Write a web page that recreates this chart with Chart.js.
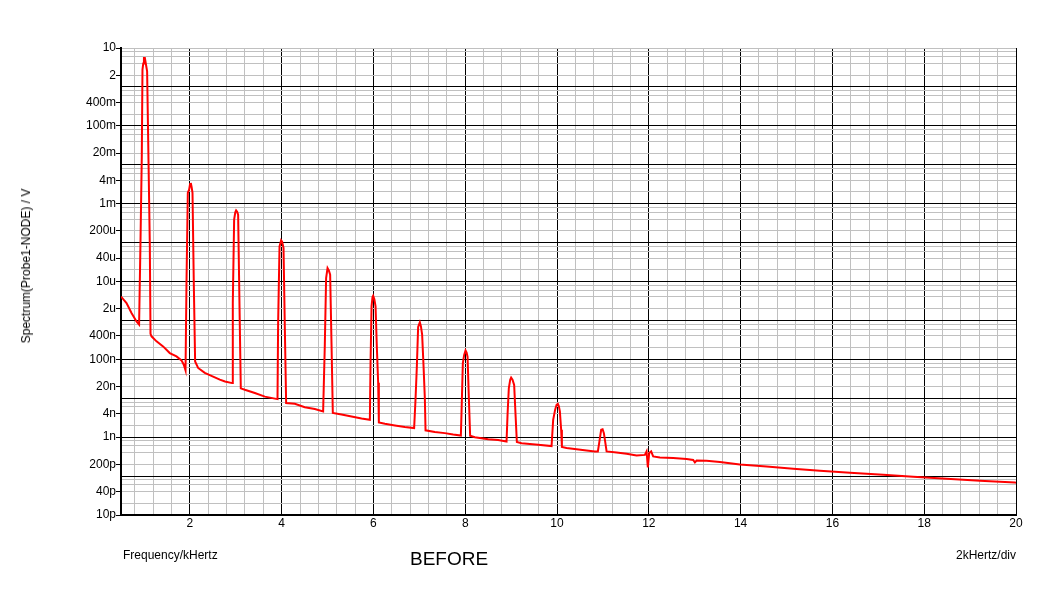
<!DOCTYPE html>
<html><head><meta charset="utf-8">
<script src="https://cdn.jsdelivr.net/npm/chart.js@4"></script>
<style>
html,body{margin:0;padding:0;background:#fff;}
#wrap{position:relative;width:1064px;height:596px;overflow:hidden;}
canvas{position:absolute;left:0;top:0;}
.t{position:absolute;font-family:"Liberation Sans",Arial,sans-serif;color:#000;white-space:nowrap;line-height:1;}
</style></head><body>
<div id="wrap">
<canvas id="c" width="1064" height="596"></canvas>
<div class="t" style="left:123px;top:549px;font-size:12px;">Frequency/kHertz</div>
<div class="t" style="left:410px;top:549px;font-size:19px;">BEFORE</div>
<div class="t" style="right:48px;top:549px;font-size:12px;">2kHertz/div</div>
<div class="t" style="left:26px;top:266px;font-size:12px;transform:translate(-50%,-50%) rotate(-90deg);">Spectrum(Probe1-NODE) / V</div>
</div>
<script>
// ---- data (frequency in kHz, spectrum in V) ----
const freqKHz = [
 0.5,0.62,0.729,0.838,0.894,
 0.925,0.953,0.968,0.985,1.0,1.02,1.04,1.069,1.099,1.128,1.143,
 1.165,1.274,1.417,1.563,1.709,1.818,1.868,1.906,
 1.927,1.956,1.984,2.005,2.021,2.04,2.058,2.086,2.115,
 2.18,2.326,2.507,2.653,2.766,2.921,
 2.936,2.965,2.99,3.008,3.03,3.052,3.082,3.11,
 3.198,3.416,3.634,3.91,
 3.923,3.954,3.989,4.01,4.041,4.069,4.098,
 4.287,4.505,4.723,4.904,
 4.941,4.969,5.0,5.03,5.057,5.087,5.115,
 5.305,5.523,5.741,5.922,
 5.937,5.959,5.98,5.994,6.02,6.046,6.074,6.103,6.118,
 6.249,6.467,6.684,6.887,
 6.918,6.946,6.974,7.011,7.035,7.061,7.092,7.12,7.135,
 7.338,7.556,7.737,7.905,
 7.92,7.948,7.977,8.007,8.03,8.051,8.079,8.107,
 8.21,8.5,8.717,8.9,
 8.922,8.95,8.98,9.0,9.03,9.066,9.096,9.125,
 9.227,9.589,9.881,
 9.916,9.959,9.99,10.018,10.04,10.062,10.09,10.106,
 10.208,10.426,10.644,10.825,10.89,
 10.918,10.962,10.993,11.021,11.049,11.08,
 11.298,11.516,11.733,11.914,
 11.951,11.979,12.008,12.051,12.095,
 12.241,12.531,12.823,12.967,13.004,13.041,13.259,13.549,
 13.984,14.566,15.146,15.728,16.382,17.107,17.761,18.489,19.214,19.977,20.0
];
const spectrumV = [
 4.1e-6,2.8e-6,1.55e-6,9.4e-7,7.8e-7,
 1.07e-4,0.0164,2.79,4.0,5.5,5.5,4.0,2.52,0.0135,8e-5,4.5e-7,
 3.9e-7,2.9e-7,2.15e-7,1.45e-7,1.19e-7,9.4e-8,7.3e-8,5.2e-8,
 9.1e-6,1.9e-3,2.3e-3,3.2e-3,3.4e-3,2.6e-3,1.9e-3,9.1e-6,8.8e-8,
 6e-8,4.5e-8,3.6e-8,3e-8,2.7e-8,2.45e-8,
 2.8e-6,3.9e-4,6.0e-4,6.7e-4,6.2e-4,5.2e-4,2.3e-6,1.8e-8,
 1.65e-8,1.36e-8,1.1e-8,9.5e-9,
 7.8e-7,8e-5,1.14e-4,1.05e-4,7.3e-5,7e-7,7.5e-9,
 7.2e-9,5.9e-9,5.3e-9,4.6e-9,
 2.4e-7,1.23e-5,2.2e-5,1.9e-5,1.5e-5,2.4e-7,4.2e-9,
 3.8e-9,3.4e-9,3.0e-9,2.8e-9,
 8e-8,2.3e-6,4.0e-6,4.3e-6,3.5e-6,2.3e-6,2.1e-7,2.5e-8,2.4e-9,
 2.2e-9,2.0e-9,1.82e-9,1.71e-9,
 1.0e-8,6.6e-8,6.8e-7,8.9e-7,7e-7,4.3e-7,6.6e-8,1.0e-8,1.5e-9,
 1.35e-9,1.27e-9,1.17e-9,1.1e-9,
 4.6e-9,8e-8,1.3e-7,1.7e-7,1.5e-7,1.15e-7,1.0e-8,1.09e-9,
 1.0e-9,8.9e-10,8.4e-10,7.7e-10,
 3.8e-9,1.83e-8,3.0e-8,3.4e-8,3.0e-8,2.2e-8,3.8e-9,7.5e-10,
 7e-10,6.4e-10,5.9e-10,
 2.8e-9,5.1e-9,6.8e-9,7.2e-9,6.2e-9,4.6e-9,1.55e-9,5.6e-10,
 5.25e-10,4.9e-10,4.55e-10,4.3e-10,4.3e-10,
 7e-10,1.55e-9,1.6e-9,1.27e-9,7.7e-10,4.3e-10,
 4.05e-10,3.75e-10,3.4e-10,3.5e-10,
 4.3e-10,1.66e-10,3.9e-10,4.3e-10,3.2e-10,
 3.0e-10,2.9e-10,2.73e-10,2.6e-10,2.24e-10,2.5e-10,2.47e-10,2.29e-10,
 1.99e-10,1.77e-10,1.54e-10,1.37e-10,1.22e-10,1.08e-10,9.6e-11,8.5e-11,7.6e-11,6.8e-11,6.7e-11
];
// ---- axis tick labels ----
const xTickLabels = [2,4,6,8,10,12,14,16,18,20];
const yTickValues = [10,2,0.4,0.1,0.02,0.004,0.001,2e-4,4e-5,1e-5,2e-6,4e-7,1e-7,2e-8,4e-9,1e-9,2e-10,4e-11,1e-11];
const yTickLabels = ['10','2','400m','100m','20m','4m','1m','200u','40u','10u','2u','400n','100n','20n','4n','1n','200p','40p','10p'];

// ---- grid structure ----
const xGrid = [];
for (let k = 2; k <= 50; k++) xGrid.push(Math.round(k * 4) / 10);
const yGrid = [];
for (let e = -11; e <= 0; e++) {
  const d = Math.pow(10, e);
  yGrid.push(d);
  [2,4,6,8].forEach(m => yGrid.push(m * d));
}
yGrid.push(10);
yGrid.sort((a,b)=>a-b);

const near = (a,b)=> Math.abs(a-b) <= Math.abs(b)*1e-6;
const yLabelFor = v => { const i = yTickValues.findIndex(t=>near(v,t)); return i>=0 ? yTickLabels[i] : ''; };
const isDecade = v => { const l = Math.log10(v); return Math.abs(l-Math.round(l))<1e-6; };
const isMajorX = v => Math.abs(v/2 - Math.round(v/2)) < 1e-6;

const FONT = {family:'"Liberation Sans", Arial, sans-serif', size:12};

new Chart(document.getElementById('c').getContext('2d'), {
  type:'line',
  data:{datasets:[{
    data: freqKHz.map((f,i)=>({x:f, y:spectrumV[i]})),
    borderColor:'#ff0000', borderWidth:2, pointRadius:0, tension:0, fill:false,
    borderJoinStyle:'miter'
  }]},
  options:{
    responsive:false, animation:false, devicePixelRatio:1,
    layout:{padding:{left:0, top:48, right:48, bottom:0}},
    plugins:{legend:{display:false}, tooltip:{enabled:false}},
    scales:{
      x:{
        type:'linear', min:0.5, max:20,
        afterBuildTicks: s => { s.ticks = xGrid.map(v=>({value:v})); },
        afterFit: s => { s.height = 81; },
        grid:{color: c => (c.tick && isMajorX(c.tick.value)) ? '#000000' : '#c0c0c0', lineWidth:1, drawTicks:false},
        border:{color:'#000', width:2},
        ticks:{autoSkip:false, maxRotation:0, minRotation:0, padding:1, color:'#000', font:FONT,
          callback: v => xTickLabels.some(t=>near(v,t)) ? String(Math.round(v)) : ''}
      },
      y:{
        type:'logarithmic', min:1e-11, max:10,
        afterBuildTicks: s => { s.ticks = yGrid.map(v=>({value:v})); },
        afterFit: s => { s.width = 121; },
        grid:{
          color: c => { const v = c.tick ? c.tick.value : 1; return (isDecade(v) && v < 5) ? '#000000' : '#c0c0c0'; },
          tickColor: c => (c.tick && yLabelFor(c.tick.value)) ? '#000000' : 'rgba(0,0,0,0)',
          lineWidth:1, tickLength:5
        },
        border:{color:'#000', width:2},
        ticks:{autoSkip:false, padding:0, color:'#000', font:FONT, callback: v => yLabelFor(v)}
      }
    }
  }
});
</script>
</body></html>
